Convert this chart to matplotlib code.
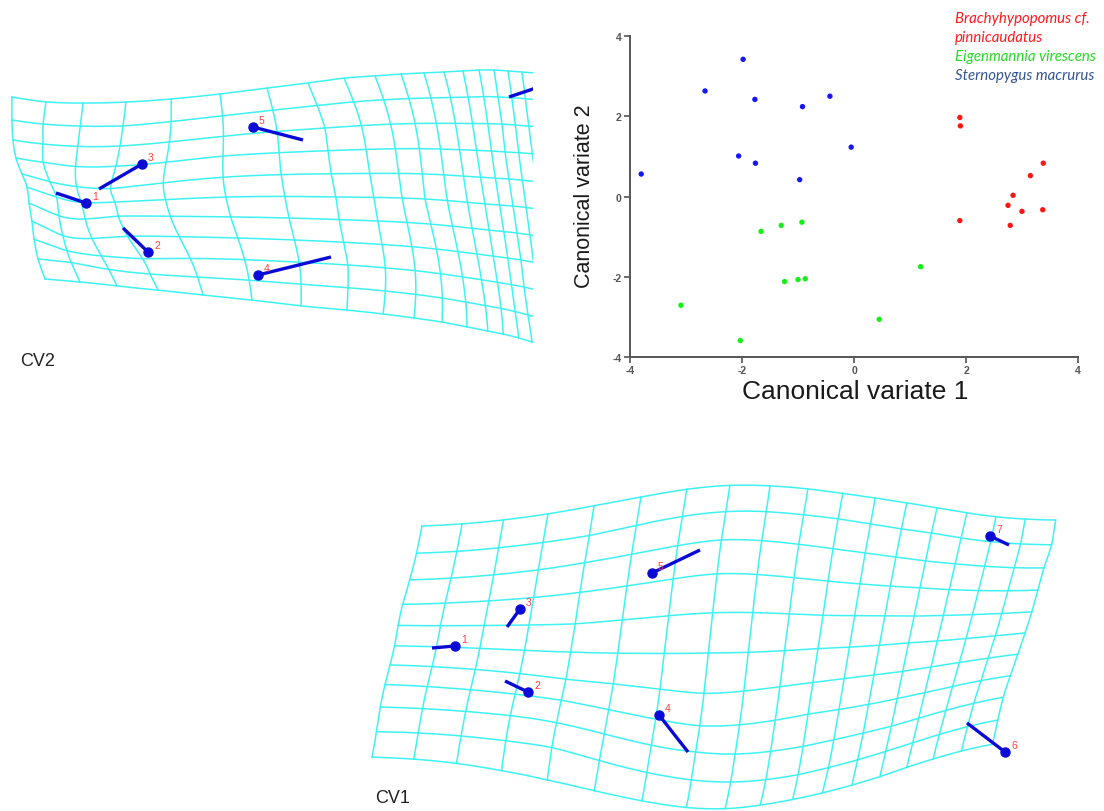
import numpy as np
import matplotlib
matplotlib.use("Agg")
import matplotlib.pyplot as plt
from matplotlib.patches import Rectangle

plt.rcParams['axes.unicode_minus'] = False

# ---------------- scatter data (canonical variate scores) ----------------
brachy_x = [1.89, 1.90, 1.89, 2.84, 2.75, 3.00, 2.79, 3.15, 3.38, 3.37]
brachy_y = [1.97, 1.76, -0.60, 0.03, -0.22, -0.37, -0.72, 0.52, 0.83, -0.33]
eigen_x = [-1.66, -1.30, -0.93, -1.24, -1.00, -0.87, 1.19, -3.09, 0.45, -2.03]
eigen_y = [-0.87, -0.72, -0.64, -2.12, -2.07, -2.05, -1.75, -2.71, -3.06, -3.59]
stern_x = [-3.80, -2.66, -1.98, -1.77, -2.06, -1.76, -0.92, -0.97, -0.43, -0.05]
stern_y = [0.56, 2.63, 3.42, 2.42, 1.01, 0.83, 2.24, 0.42, 2.50, 1.23]
legend_lines = ["Brachyhypopomus cf.", "pinnicaudatus", "Eigenmannia virescens", "Sternopygus macrurus"]
ticks = [-4, -2, 0, 2, 4]

# ---------------- CV1 deformation grid control points (grid index -> pixel) -------------
cv1_top_x = [422, 462, 503, 548, 594, 641, 687, 730, 770, 808, 843, 875, 907, 937, 967, 996, 1025, 1055]
cv1_top_y = [527, 525, 521, 515, 506, 498, 490, 486, 487, 490, 495, 499, 504, 509, 514, 518, 520, 521]
cv1_bot_x = [372, 414, 456, 502, 547, 594, 642, 687, 725, 760, 793, 822, 852, 880, 907, 933, 961, 993]
cv1_bot_y = [758, 760, 764, 772, 782, 792, 802, 809, 810, 806, 800, 794, 786, 778, 768, 760, 752, 745]
cv1_left_x = [417, 410, 402, 398, 395, 390, 385, 380, 377]
cv1_left_y = [554, 581, 606, 626, 647, 666, 685, 708, 733]
cv1_right_x = [1053, 1043, 1038, 1032, 1025, 1018, 1010, 1003, 998]
cv1_right_y = [546, 569, 591, 613, 634, 655, 677, 698, 721]
cv1_inner_i = [4, 7, 10, 13] * 9
cv1_inner_j = [j for j in range(1, 10) for _ in range(4)]
cv1_inner_y = [538, 513, 519, 533,
               563, 540, 550, 563,
               593, 574, 582, 588,
               626, 614, 617, 618,
               652, 653, 649, 643,
               682, 696, 684, 673,
               700, 728, 714, 699,
               724, 752, 748, 728,
               746, 781, 776, 752]
cv1_marks_x = [455, 528, 520, 659, 652, 1005, 990]
cv1_marks_y = [647, 693, 610, 716, 574, 753, 537]
cv1_ends_x = [432, 505, 507, 688, 700, 967, 1009]
cv1_ends_y = [649, 682, 628, 753, 551, 724, 546]

# ---------------- CV2 deformation grid control points ----------------
cv2_top_x = [12, 46, 83, 126, 171, 220, 267, 308, 344, 375, 401, 424, 444, 463, 479, 494, 508, 522, 535]
cv2_top_y = [98, 103, 104, 103, 100, 95, 89, 84, 79, 77, 75, 74, 73, 72, 71, 71, 72, 73, 74]
cv2_bot_x = [45, 80, 117, 158, 203, 252, 301, 347, 383, 414, 442, 467, 488, 503, 519, 532, 545, 557, 569]
cv2_bot_y = [280, 283, 287, 291, 296, 301, 307, 311, 315, 319, 323, 328, 332, 335, 339, 343, 346, 349, 352]
cv2_inner_i = [0, 0, 0, 0, 0, 0, 0, 0, 0,
               1, 1, 1, 1, 1, 1, 1, 1, 1,
               3, 3, 3, 3, 3, 3, 3, 3, 3,
               5, 5, 5, 7, 7, 7, 10, 13,
               15, 15, 15, 15, 15, 15, 15, 15, 15]
cv2_inner_j = [1, 2, 3, 4, 5, 6, 7, 8, 9,
               1, 2, 3, 4, 5, 6, 7, 8, 9,
               1, 2, 3, 4, 5, 6, 7, 8, 9,
               3, 5, 7, 2, 5, 8, 5, 5,
               1, 2, 3, 4, 5, 6, 7, 8, 9]
cv2_inner_x = [12, 13, 16, 22, 27, 29, 32, 34, 38,
               43, 43, 43, 50, 57, 59, 63, 67, 71,
               123, 120, 116, 110, 115, 118, 127, 143, 150,
               223, 226, 238, 325, 336, 348, 425, 485,
               498, 502, 505, 509, 513, 517, 521, 524, 528]
cv2_inner_y = [121, 141, 159, 175, 188, 204, 222, 240, 260,
               125, 145, 163, 183, 198, 217, 237, 252, 263,
               127, 147, 167, 190, 203, 217, 237, 260, 275,
               157, 198, 239, 129, 198, 266, 200, 205,
               98, 125, 153, 180, 207, 234, 261, 288, 316]
cv2_marks_x = [86, 148, 142, 258, 253, 548]
cv2_marks_y = [204, 253, 165, 276, 128, 85]
cv2_ends_x = [56, 123, 99, 331, 303, 509]
cv2_ends_y = [194, 229, 190, 258, 141, 98]
CV2_CLIP_X = 533


def U(r):
    with np.errstate(divide='ignore', invalid='ignore'):
        v = r * r * np.log(r)
    return np.nan_to_num(v)


def tps(ci, cj, cx, cy, lam=0.05):
    src = np.column_stack([ci, cj]).astype(float)
    n = len(src)
    d = np.linalg.norm(src[:, None, :] - src[None, :, :], axis=2)
    A = np.zeros((n + 3, n + 3))
    A[:n, :n] = U(d) + lam * np.eye(n)
    P = np.column_stack([np.ones(n), src])
    A[:n, n:] = P
    A[n:, :n] = P.T
    B = np.zeros((n + 3, 2))
    B[:n, 0] = cx
    B[:n, 1] = cy
    W = np.linalg.solve(A, B)

    def f(pts):
        dd = np.linalg.norm(pts[:, None, :] - src[None, :, :], axis=2)
        Pp = np.column_stack([np.ones(len(pts)), pts])
        return U(dd) @ W[:n] + Pp @ W[n:]
    return f


def build_cv1():
    ni, nj = len(cv1_top_x), 11
    ci, cj, cx, cy = [], [], [], []
    for i in range(ni):
        ci += [i, i]; cj += [0, nj - 1]
        cx += [cv1_top_x[i], cv1_bot_x[i]]; cy += [cv1_top_y[i], cv1_bot_y[i]]
    for k in range(9):
        ci += [0, ni - 1]; cj += [k + 1, k + 1]
        cx += [cv1_left_x[k], cv1_right_x[k]]; cy += [cv1_left_y[k], cv1_right_y[k]]
    for i, j, y in zip(cv1_inner_i, cv1_inner_j, cv1_inner_y):
        x = cv1_top_x[i] + (cv1_bot_x[i] - cv1_top_x[i]) * j / (nj - 1)
        ci.append(i); cj.append(j); cx.append(x); cy.append(y)
    return tps(ci, cj, cx, cy, lam=1.0), ni, nj


def build_cv2():
    ni, nj = len(cv2_top_x), 11
    ci, cj, cx, cy = [], [], [], []
    for i in range(ni):
        ci += [i, i]; cj += [0, nj - 1]
        cx += [cv2_top_x[i], cv2_bot_x[i]]; cy += [cv2_top_y[i], cv2_bot_y[i]]
    ci += cv2_inner_i; cj += cv2_inner_j; cx += cv2_inner_x; cy += cv2_inner_y
    return tps(ci, cj, cx, cy, lam=0.15), ni, nj


fig = plt.figure(figsize=(11.04, 8.12), dpi=100)
ax = fig.add_axes([0, 0, 1, 1])
ax.set_xlim(0, 1104)
ax.set_ylim(812, 0)
ax.axis('off')

grid_color = '#3ff2f2'
lm_color = '#0a0ad6'
num_color = '#ff4040'


def draw_grid(f, ni, nj, imax, clip=None):
    t = np.linspace(0, nj - 1, 200)
    for i in range(ni):
        p = f(np.column_stack([np.full_like(t, i), t]))
        ln, = ax.plot(p[:, 0], p[:, 1], color=grid_color, lw=1.1, zorder=1)
        if clip is not None:
            ln.set_clip_path(clip)
    s = np.linspace(0, imax, 300)
    for j in range(nj):
        p = f(np.column_stack([s, np.full_like(s, j)]))
        ln, = ax.plot(p[:, 0], p[:, 1], color=grid_color, lw=1.1, zorder=1)
        if clip is not None:
            ln.set_clip_path(clip)


def draw_marks(mx, my, ex, ey, clip=None, xmax=None):
    for k, (a, b, c, d) in enumerate(zip(mx, my, ex, ey)):
        arts = ax.plot([a, c], [b, d], color=lm_color, lw=2.4, solid_capstyle='butt', zorder=3)
        arts += ax.plot([a], [b], 'o', color=lm_color, ms=6.5, zorder=4)
        if clip is not None:
            for ar in arts:
                ar.set_clip_path(clip)
        if xmax is None or a < xmax:
            ax.text(a + 6, b - 2, str(k + 1), color=num_color, fontsize=7.5,
                    family='Liberation Sans', ha='left', va='bottom', zorder=5)


f1, ni1, nj1 = build_cv1()
draw_grid(f1, ni1, nj1, ni1 - 1)
draw_marks(cv1_marks_x, cv1_marks_y, cv1_ends_x, cv1_ends_y)

clip2 = Rectangle((0, 0), CV2_CLIP_X, 812, transform=ax.transData)
f2, ni2, nj2 = build_cv2()
draw_grid(f2, ni2, nj2, ni2 - 1, clip=clip2)
draw_marks(cv2_marks_x, cv2_marks_y, cv2_ends_x, cv2_ends_y, clip=clip2, xmax=CV2_CLIP_X)

ax.text(20, 362, "CV2", fontsize=13, family='Liberation Sans', color='#222222', va='center', ha='left')
ax.text(375, 799, "CV1", fontsize=13, family='Liberation Sans', color='#222222', va='center', ha='left')

# ---------------- scatter plot ----------------
sax = fig.add_axes([630 / 1104, 1 - 358 / 812, 448 / 1104, 321 / 812])
sax.set_facecolor('none')
sax.scatter(brachy_x, brachy_y, s=15, color='#ff1414', edgecolors='none', zorder=3)
sax.scatter(eigen_x, eigen_y, s=15, color='#14f014', edgecolors='none', zorder=3)
sax.scatter(stern_x, stern_y, s=15, color='#1414ff', edgecolors='none', zorder=3)
sax.set_xlim(-4, 4)
sax.set_ylim(-4, 4)
sax.set_xticks(ticks)
sax.set_yticks(ticks)
for sp in ['top', 'right']:
    sax.spines[sp].set_visible(False)
for sp in ['left', 'bottom']:
    sax.spines[sp].set_color('#555555')
    sax.spines[sp].set_linewidth(1.4)
sax.tick_params(direction='out', length=4, width=1.2, color='#555555', labelcolor='#555555',
                labelsize=7.5, pad=2)
for lab in sax.get_xticklabels() + sax.get_yticklabels():
    lab.set_fontweight('bold')
    lab.set_family('Liberation Sans')

fig.text(855 / 1104, 1 - 392 / 812, "Canonical variate 1", ha='center', va='center',
         fontsize=19, family='Liberation Sans', color='#1a1a1a')
fig.text(585 / 1104, 1 - 196 / 812, "Canonical variate 2", ha='center', va='center',
         rotation=90, fontsize=15.5, family='Liberation Sans', color='#1a1a1a')

leg_colors = ['#ff1a1a', '#ff1a1a', '#22dd22', '#355592']
leg_y = [19, 38, 57, 76]
for txt, col, yy in zip(legend_lines, leg_colors, leg_y):
    fig.text(955 / 1104, 1 - yy / 812, txt, ha='left', va='center', fontsize=10.8,
             family='Lato', style='italic', color=col)

fig.savefig("out.png", dpi=100, facecolor='white')
